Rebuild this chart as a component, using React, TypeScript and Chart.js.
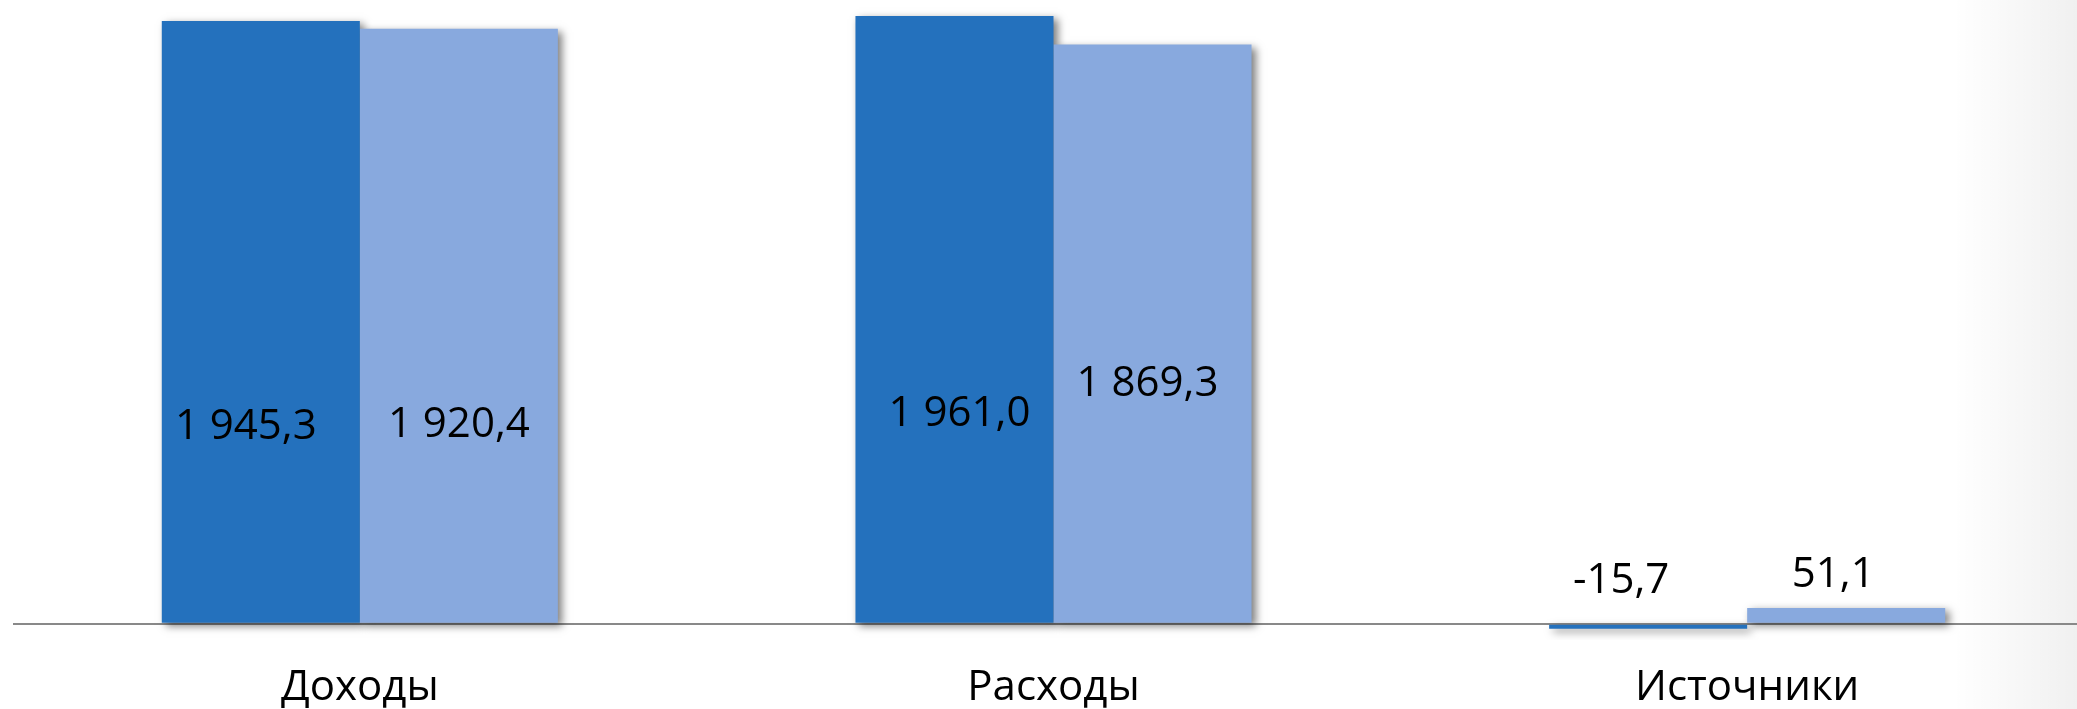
import React, { useEffect, useRef } from "react";
import { Chart, registerables } from "chart.js";

Chart.register(...registerables);

const categories = ["Доходы", "Расходы", "Источники"];
const seriesA = [1945.3, 1961.0, -15.7];
const seriesB = [1920.4, 1869.3, 51.1];

const colorA = "#2471bd";
const colorB = "#88a9de";
const FONT = "'Open Sans', 'Liberation Sans', sans-serif";

// manual label placement: [dx from bar centre, baseline height above zero line]
const labelPlacementA = [[-15, 185], [5, 198], [-27, 31]];
const labelPlacementB = [[0, 187], [-5, 228], [-13, 37]];

function fmt(v: number): string {
  const neg = v < 0;
  const s = Math.abs(v).toFixed(1);
  const [ip, dp] = s.split(".");
  const withSp = ip.replace(/\B(?=(\d{3})+(?!\d))/g, " ");
  return (neg ? "-" : "") + withSp + "," + dp;
}

// draw only the soft drop shadows of all bars before the bars themselves
const shadowPlugin = {
  id: "barShadow",
  beforeDatasetsDraw(chart: any) {
    const ctx = chart.ctx;
    const area = chart.chartArea;
    const FAR = 10000;
    ctx.save();
    ctx.beginPath();
    ctx.rect(area.left, area.top, area.right - area.left, area.bottom - area.top + 10);
    ctx.clip();
    ctx.shadowColor = "rgba(0,0,0,0.5)";
    ctx.shadowBlur = 8;
    ctx.shadowOffsetX = 4 + FAR;
    ctx.shadowOffsetY = 3;
    ctx.fillStyle = "#000";
    chart.data.datasets.forEach((_ds: any, di: number) => {
      const meta = chart.getDatasetMeta(di);
      meta.data.forEach((el: any) => {
        const p = el.getProps(["x", "y", "base", "width"], true);
        const top = Math.min(p.y, p.base);
        const h = Math.abs(p.base - p.y);
        ctx.fillRect(p.x - p.width / 2 - FAR, top, p.width, h);
      });
    });
    ctx.restore();
  },
};

const labelPlugin = {
  id: "manualLabels",
  afterDatasetsDraw(chart: any) {
    const ctx = chart.ctx;
    const zero = chart.scales.y.getPixelForValue(0);
    const placements = [labelPlacementA, labelPlacementB];
    ctx.save();
    ctx.font = `42px ${FONT}`;
    ctx.fillStyle = "#000";
    ctx.textAlign = "center";
    ctx.textBaseline = "alphabetic";
    chart.data.datasets.forEach((ds: any, di: number) => {
      const meta = chart.getDatasetMeta(di);
      meta.data.forEach((el: any, i: number) => {
        const [dx, dy] = placements[di][i];
        ctx.fillText(fmt(ds.data[i]), el.x + dx, zero - dy);
      });
    });
    ctx.restore();
  },
};

export default function App() {
  const ref = useRef<HTMLCanvasElement | null>(null);
  useEffect(() => {
    if (!ref.current) return;
    const chart = new Chart(ref.current, {
      type: "bar",
      data: {
        labels: categories,
        datasets: [
          { label: "A", data: seriesA, backgroundColor: colorA },
          { label: "B", data: seriesB, backgroundColor: colorB },
        ],
      },
      options: {
        responsive: false,
        animation: false,
        devicePixelRatio: 1,
        layout: { padding: { left: 13, right: 0, top: 0, bottom: 0 } },
        plugins: { legend: { display: false }, tooltip: { enabled: false } },
        datasets: { bar: { barPercentage: 1, categoryPercentage: 0.571 } },
        scales: {
          x: {
            grid: { display: false, drawTicks: false },
            border: { display: false },
            ticks: { color: "#000", font: { size: 42, family: FONT }, padding: 33 },
            afterFit: (s: any) => { s.height = 79; },
          },
          y: {
            min: -20,
            max: 2013,
            grid: { color: "#898989", lineWidth: 2, drawTicks: false },
            border: { display: false },
            ticks: { display: false },
            afterBuildTicks: (s: any) => { s.ticks = [{ value: 0 }]; },
            afterFit: (s: any) => { s.width = 0; },
          },
        },
      },
      plugins: [shadowPlugin, labelPlugin],
    });
    return () => chart.destroy();
  }, []);
  return (
    <div
      style={{
        position: "fixed",
        left: 0,
        top: 0,
        width: 2077,
        height: 709,
        overflow: "hidden",
        background:
          "linear-gradient(to right, rgba(0,0,0,0) 94%, rgba(0,0,0,0.06) 100%), #fff",
      }}
    >
      <canvas ref={ref} width={2094} height={709} style={{ display: "block" }} />
    </div>
  );
}
